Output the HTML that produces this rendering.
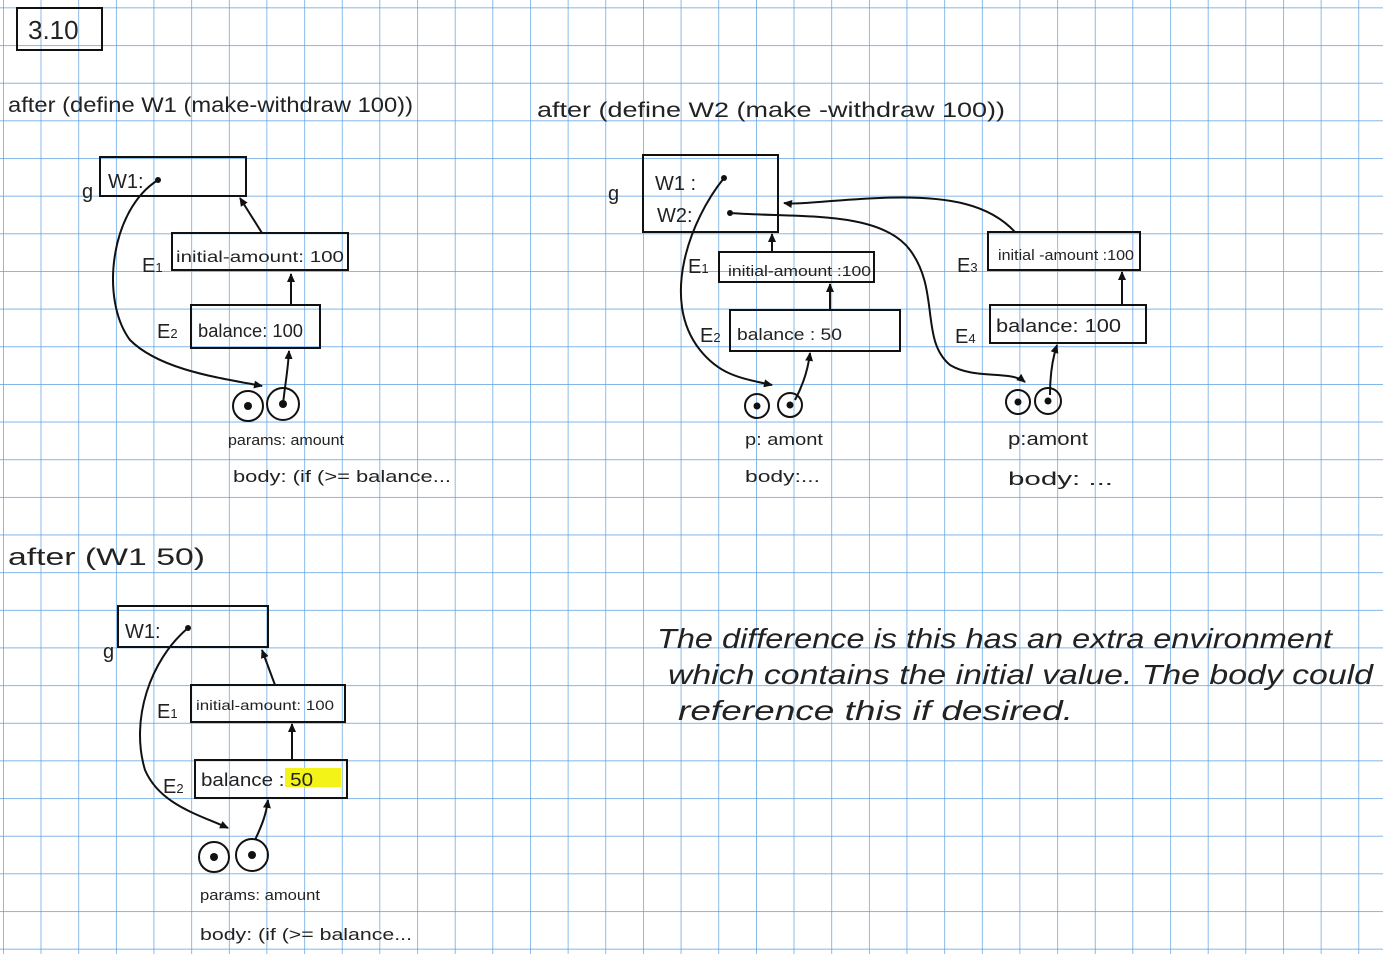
<!DOCTYPE html>
<html><head><meta charset="utf-8"><style>
html,body{margin:0;padding:0;background:#fff}
svg{display:block}
text{font-family:"Liberation Sans",sans-serif;fill:#222}
</style></head><body>
<svg width="1383" height="954" viewBox="0 0 1383 954" xmlns="http://www.w3.org/2000/svg">
<defs>
<pattern id="g" x="3" y="7.5" width="37.65" height="37.65" patternUnits="userSpaceOnUse">
<path d="M0 0 V37.65 M0 0 H37.65" stroke="#5a9ee0" stroke-width="1.4" fill="none"/>
</pattern>
<marker id="a" markerWidth="10" markerHeight="10" refX="8" refY="5" orient="auto" markerUnits="userSpaceOnUse">
<path d="M0 1 L9 5 L0 9 Z" fill="#111"/>
</marker>
</defs>
<rect width="1383" height="954" fill="#fff"/>
<rect width="1383" height="954" fill="url(#g)"/>
<g fill="none" stroke="#111" stroke-width="2">
<!-- title -->
<rect x="17" y="8" width="85" height="42"/>
<!-- top-left -->
<rect x="100" y="157" width="146" height="39"/>
<rect x="172" y="233" width="176" height="37"/>
<rect x="191" y="305" width="129" height="43"/>
<circle cx="248" cy="406" r="15"/><circle cx="283" cy="404" r="16"/>
<path d="M262 233 L240 198" marker-end="url(#a)"/>
<path d="M291 305 L291 274" marker-end="url(#a)"/>
<path d="M283 404 C285 385 288 370 289 351" marker-end="url(#a)"/>
<path d="M158 180 C110 210 100 300 130 340 C160 370 220 378 262 386" marker-end="url(#a)"/>
<!-- top-right -->
<rect x="643" y="155" width="135" height="77"/>
<rect x="719" y="252" width="155" height="30"/>
<rect x="730" y="310" width="170" height="41"/>
<rect x="988" y="232" width="152" height="38"/>
<rect x="990" y="305" width="156" height="38"/>
<circle cx="757" cy="406" r="12"/><circle cx="790" cy="405" r="12"/>
<circle cx="1018" cy="402" r="12"/><circle cx="1048" cy="401" r="13"/>
<path d="M772 252 L772 234" marker-end="url(#a)"/>
<path d="M830 310 L830 284" marker-end="url(#a)"/>
<path d="M795 400 C803 385 808 370 810 353" marker-end="url(#a)"/>
<path d="M1015 232 C990 205 950 195 880 198 C830 200 800 205 784 203" marker-end="url(#a)"/>
<path d="M1122 305 L1122 272" marker-end="url(#a)"/>
<path d="M1050 395 C1050 375 1052 360 1057 345" marker-end="url(#a)"/>
<path d="M730 213 C800 218 880 210 910 250 C940 290 920 340 950 365 C975 380 1010 370 1025 382" marker-end="url(#a)"/>
<path d="M724 178 C690 220 660 300 700 350 C720 375 740 378 772 385" marker-end="url(#a)"/>
<!-- bottom-left -->
<rect x="118" y="606" width="150" height="41"/>
<rect x="191" y="685" width="154" height="37"/>
<rect x="195" y="760" width="152" height="38"/>
<circle cx="214" cy="857" r="15"/><circle cx="252" cy="855" r="16"/>
<path d="M275 685 L262 650" marker-end="url(#a)"/>
<path d="M292 760 L292 724" marker-end="url(#a)"/>
<path d="M255 840 C262 825 266 815 268 800" marker-end="url(#a)"/>
<path d="M188 628 C150 660 130 720 145 770 C160 805 200 815 228 828" marker-end="url(#a)"/>
</g>
<g fill="#111">
<circle cx="248" cy="406" r="4"/><circle cx="283" cy="404" r="4"/>
<circle cx="757" cy="406" r="3.5"/><circle cx="790" cy="405" r="3.5"/>
<circle cx="1018" cy="402" r="3.5"/><circle cx="1048" cy="401" r="3.5"/>
<circle cx="214" cy="857" r="4"/><circle cx="252" cy="855" r="4"/>
<circle cx="158" cy="180" r="3"/><circle cx="724" cy="178" r="3"/><circle cx="730" cy="213" r="3"/><circle cx="188" cy="628" r="3"/>
</g>
<rect x="285" y="768" width="56" height="19" fill="#f3f318"/>
<text x="28" y="39" font-size="26">3.10</text>
<text x="8" y="112" font-size="21" textLength="405" lengthAdjust="spacingAndGlyphs">after  (define W1 (make-withdraw 100))</text>
<text x="537" y="117" font-size="21" textLength="468" lengthAdjust="spacingAndGlyphs">after  (define  W2  (make -withdraw  100))</text>
<text x="8" y="565" font-size="24" textLength="197" lengthAdjust="spacingAndGlyphs">after  (W1  50)</text>
<g font-size="20">
<text x="82" y="198">g</text><text x="108" y="188">W1:</text>
<text x="142" y="272">E<tspan font-size="13">1</tspan></text>
<text x="176" y="262" font-size="16" textLength="168" lengthAdjust="spacingAndGlyphs">initial-amount: 100</text>
<text x="157" y="338">E<tspan font-size="13">2</tspan></text>
<text x="198" y="337" font-size="18" textLength="105" lengthAdjust="spacingAndGlyphs">balance: 100</text>
<text x="228" y="445" font-size="15" textLength="116" lengthAdjust="spacingAndGlyphs">params: amount</text>
<text x="233" y="482" font-size="17" textLength="218" lengthAdjust="spacingAndGlyphs">body: (if (&gt;= balance...</text>

<text x="608" y="200">g</text><text x="655" y="190">W1 :</text><text x="657" y="222">W2:</text>
<text x="688" y="273">E<tspan font-size="13">1</tspan></text>
<text x="728" y="276" font-size="15" textLength="143" lengthAdjust="spacingAndGlyphs">initial-amount :100</text>
<text x="700" y="342">E<tspan font-size="13">2</tspan></text>
<text x="737" y="340" font-size="17" textLength="105" lengthAdjust="spacingAndGlyphs">balance : 50</text>
<text x="745" y="445" font-size="17" textLength="78" lengthAdjust="spacingAndGlyphs">p: amont</text>
<text x="745" y="482" font-size="17" textLength="75" lengthAdjust="spacingAndGlyphs">body:...</text>
<text x="957" y="272">E<tspan font-size="13">3</tspan></text>
<text x="998" y="260" font-size="15" textLength="136" lengthAdjust="spacingAndGlyphs">initial -amount :100</text>
<text x="955" y="343">E<tspan font-size="13">4</tspan></text>
<text x="996" y="332" font-size="18" textLength="125" lengthAdjust="spacingAndGlyphs">balance:  100</text>
<text x="1008" y="445" font-size="18" textLength="80" lengthAdjust="spacingAndGlyphs">p:amont</text>
<text x="1008" y="485" font-size="18" textLength="105" lengthAdjust="spacingAndGlyphs">body: ...</text>

<text x="103" y="658">g</text><text x="125" y="638">W1:</text>
<text x="157" y="718">E<tspan font-size="13">1</tspan></text>
<text x="196" y="710" font-size="14" textLength="138" lengthAdjust="spacingAndGlyphs">initial-amount: 100</text>
<text x="163" y="793">E<tspan font-size="13">2</tspan></text>
<text x="201" y="786" font-size="18" textLength="112" lengthAdjust="spacingAndGlyphs">balance : 50</text>
<text x="200" y="900" font-size="15" textLength="120" lengthAdjust="spacingAndGlyphs">params: amount</text>
<text x="200" y="940" font-size="17" textLength="212" lengthAdjust="spacingAndGlyphs">body: (if (&gt;= balance...</text>
</g>
<g font-size="28" font-style="italic">
<text x="657" y="648" textLength="675" lengthAdjust="spacingAndGlyphs">The difference is this has an extra environment</text>
<text x="668" y="684" textLength="705" lengthAdjust="spacingAndGlyphs">which contains the initial value. The body could</text>
<text x="678" y="720" textLength="395" lengthAdjust="spacingAndGlyphs">reference this if desired.</text>
</g>
</svg>
</body></html>
